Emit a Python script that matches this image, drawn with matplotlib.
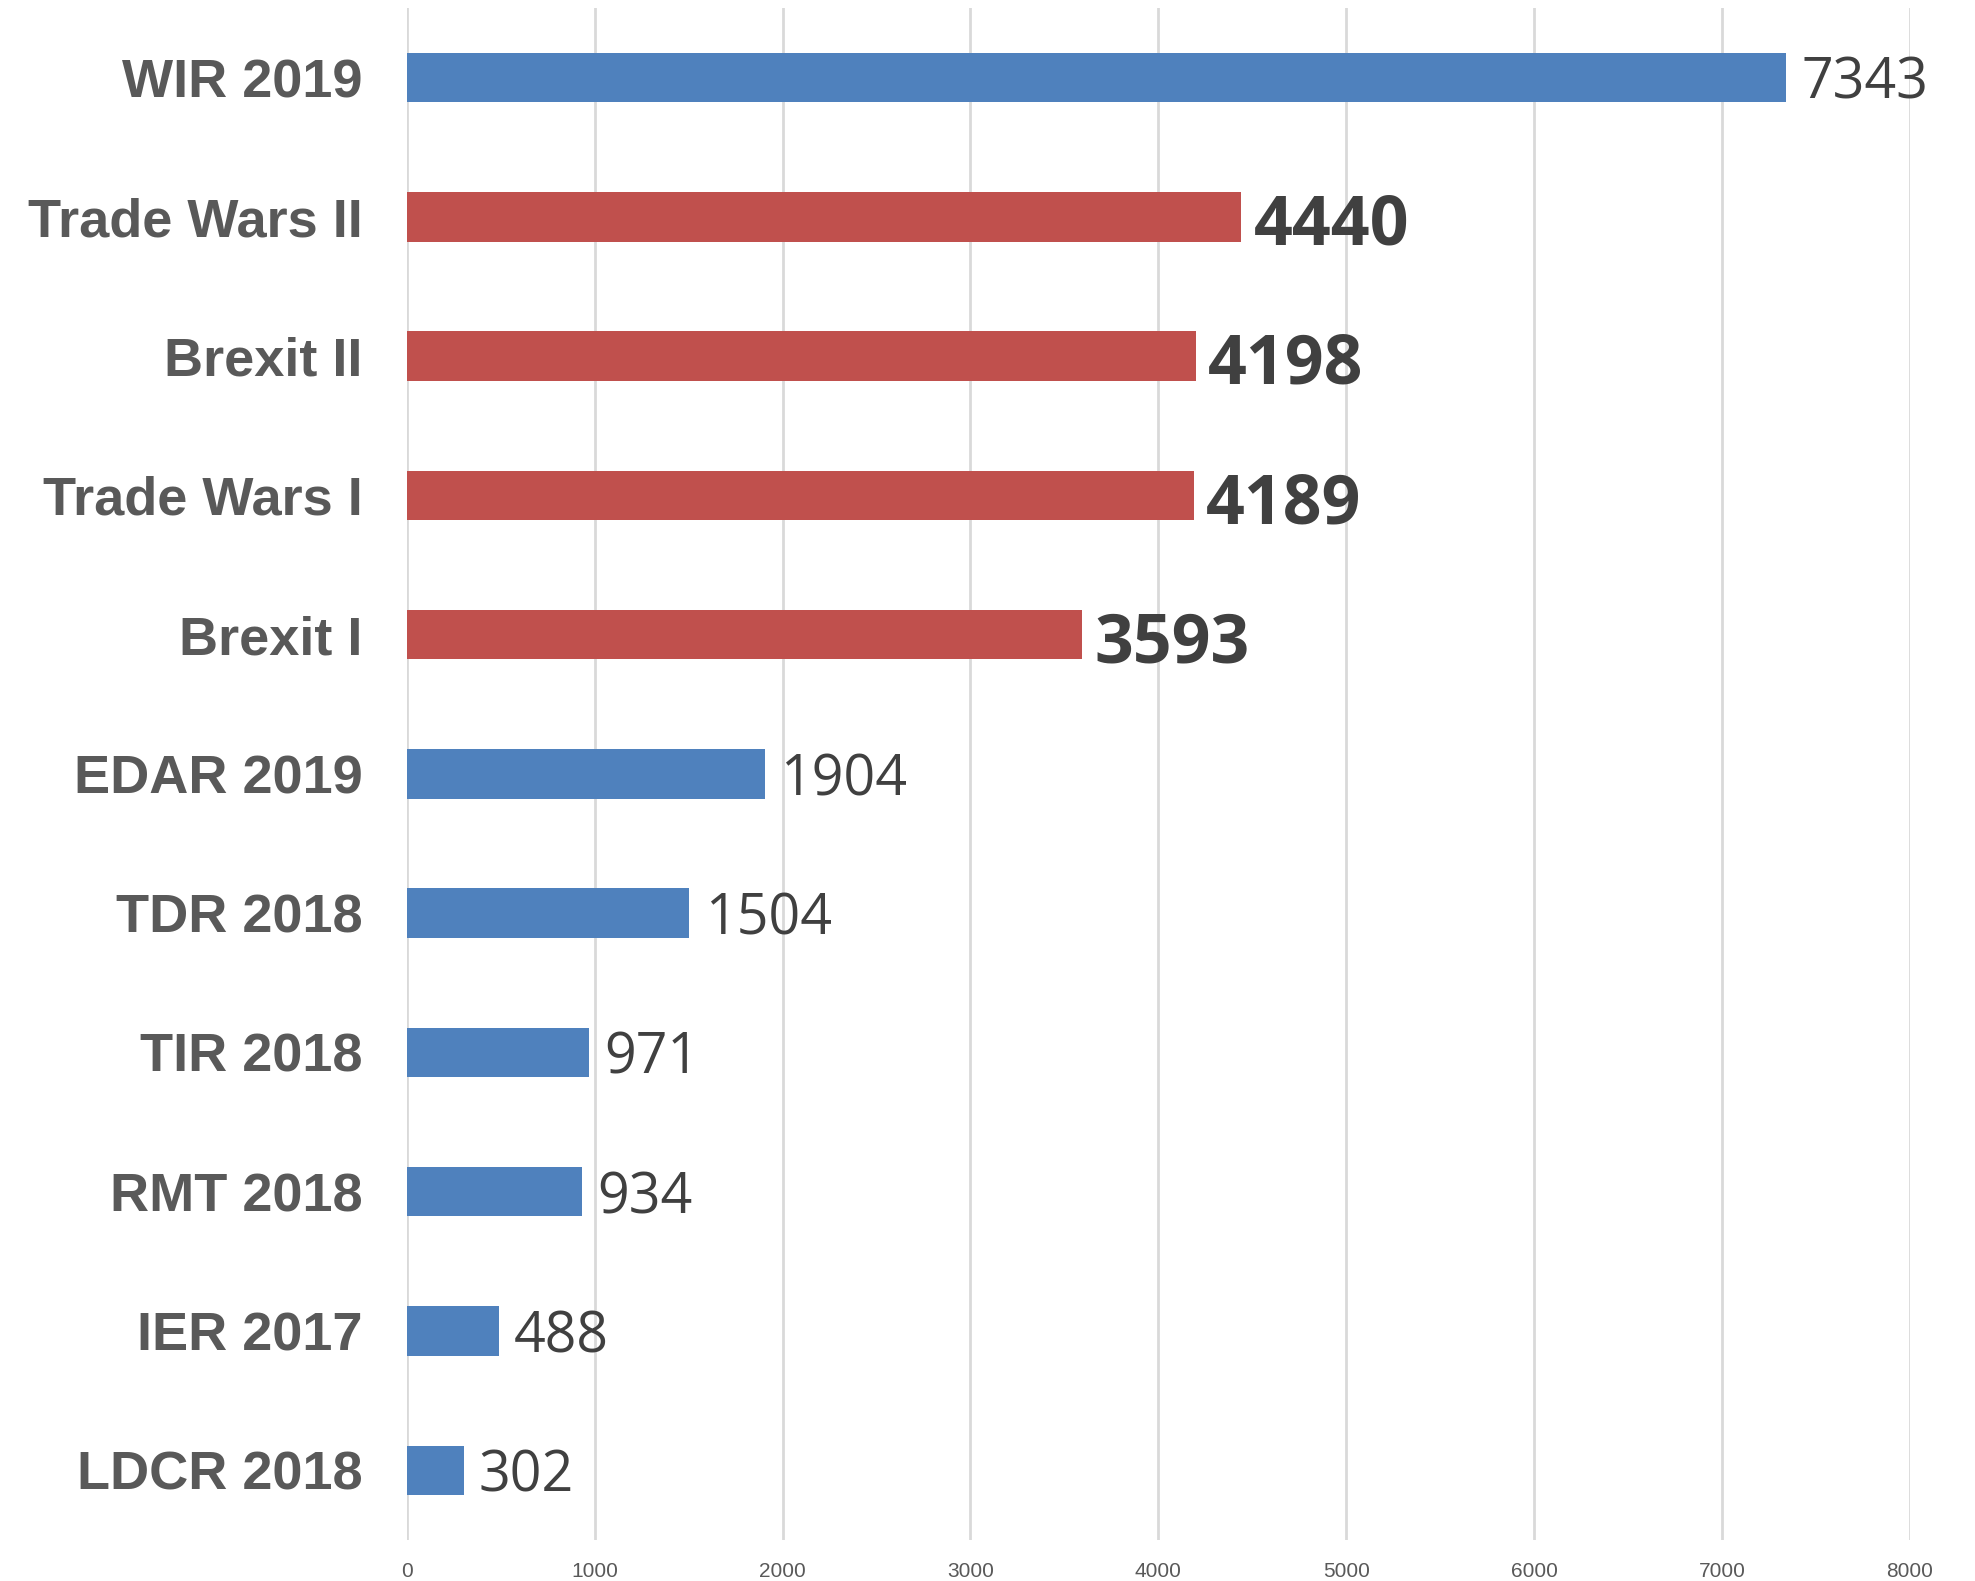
import matplotlib.pyplot as plt
import numpy as np

# reports, top to bottom
reports = ['WIR 2019', 'Trade Wars II', 'Brexit II', 'Trade Wars I', 'Brexit I',
           'EDAR 2019', 'TDR 2018', 'TIR 2018', 'RMT 2018', 'IER 2017', 'LDCR 2018']
downloads = [7343, 4440, 4198, 4189, 3593, 1904, 1504, 971, 934, 488, 302]
highlight = [False, True, True, True, True, False, False, False, False, False, False]
x_ticks = [0, 1000, 2000, 3000, 4000, 5000, 6000, 7000, 8000]

blue = '#4F81BD'
red = '#C0504D'

fig = plt.figure(figsize=(19.75, 15.81), dpi=100)
ax = fig.add_axes([0.206, 0.026, 0.761, 0.969])

y = np.arange(len(reports))
colors = [red if h else blue for h in highlight]
ax.barh(y, downloads, height=0.355, color=colors, zorder=3)

ax.set_ylim(len(reports) - 0.5, -0.5)
ax.set_xlim(0, 8000)
ax.set_xticks(x_ticks)
ax.set_xticklabels([str(t) for t in x_ticks], family='Liberation Sans',
                   fontsize=15, color='#595959')
ax.set_yticks(y)
ax.set_yticklabels(reports, family='Liberation Sans', fontweight='bold',
                   fontsize=39, color='#595959')
ax.tick_params(axis='both', length=0)
ax.tick_params(axis='y', pad=32)
ax.tick_params(axis='x', pad=16)
ax.grid(axis='x', color='#D9D9D9', linewidth=2, zorder=0)
for s in ax.spines.values():
    s.set_visible(False)

for yi, v, h in zip(y, downloads, highlight):
    if h:
        ax.annotate(str(v), (v, yi), xytext=(9, -7), textcoords='offset points',
                    va='center', ha='left', family='Open Sans', color='#404040',
                    fontsize=49, fontweight='bold')
    else:
        ax.annotate(str(v), (v, yi), xytext=(11, -5), textcoords='offset points',
                    va='center', ha='left', family='Open Sans', color='#404040',
                    fontsize=40)

fig.savefig('out.png', dpi=100)
